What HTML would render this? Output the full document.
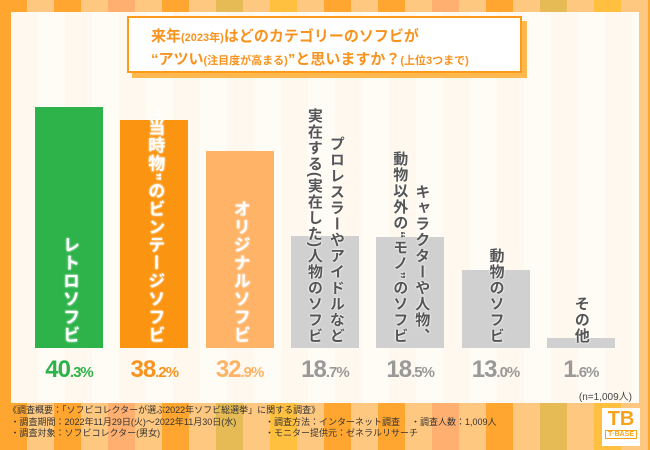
<!DOCTYPE html>
<html><head><meta charset="utf-8">
<style>
*{margin:0;padding:0;box-sizing:border-box}
body{width:650px;height:450px;overflow:hidden;font-family:"Liberation Sans","Noto Sans CJK JP",sans-serif;position:relative;
background:repeating-linear-gradient(90deg,#ffa630 0 27px,#ffc880 27px 54px,#ffa630 54px 81px,#ffc880 81px 108px,#ffb070 108px 135px,#ffc880 135px 162px,#ffa630 162px 189px,#ffc880 189px 216px,#e6bb55 216px 243px,#ffc880 243px 270px,#ffc040 270px 297px,#ffc880 297px 324px)}
#panel{position:absolute;left:11px;top:12px;width:628px;height:391px;background:repeating-linear-gradient(90deg,#fff8ee 0 27px,#fffbf5 27px 54px)}
#title-shadow{position:absolute;left:132px;top:21px;width:395px;height:57px;background:#ffb84d}
#title{position:absolute;left:127px;top:16px;width:395px;height:57px;background:#fff;border:2px solid #ff9a1a;color:#f7931e;font-size:15px;font-weight:bold;padding:8px 0 0 22px;line-height:21px}
#title small{font-size:11px}
.lbl{position:absolute;writing-mode:vertical-rl;text-align:end;font-weight:bold;font-size:17px;line-height:22px;letter-spacing:1px}
.w{color:#fff;text-shadow:0 0 2px #fff}
.g{color:#555;text-shadow:0 0 2px #fff,0 0 2px #fff;font-size:15px}
.val{position:absolute;top:356px;font-size:24px;font-weight:bold;text-align:center;width:90px;letter-spacing:-1px}
.val span{font-size:15px}
#foot{position:absolute;left:8px;top:405px;width:580px;font-size:9px;color:#333;line-height:11.5px;white-space:nowrap}
#foot span{white-space:nowrap}
</style></head><body>
<div id="panel"></div>
<div id="title-shadow"></div>
<div id="title">来年<small>(2023年)</small>はどのカテゴリーのソフビが<br>“アツい<small>(注目度が高まる)</small>”と思いますか？<small>(上位3つまで)</small></div>
<div id="chart"></div>
<div style="position:absolute;right:18px;top:388px;font-size:10px;color:#444">(n=1,009人)</div>
<div id="foot">《調査概要：「ソフビコレクターが選ぶ2022年ソフビ総選挙」に関する調査》<br>
&nbsp;・調査期間：2022年11月29日(火)～2022年11月30日(水)<span style="position:absolute;left:257px">・調査方法：インターネット調査</span><span style="position:absolute;left:403px">・調査人数：1,009人</span><br>
&nbsp;・調査対象：ソフビコレクター(男女)<span style="position:absolute;left:257px">・モニター提供元：ゼネラルリサーチ</span></div>
<div style="position:absolute;left:602px;top:408px;width:38px;height:38px;background:#fff;text-align:center;color:#f7a21b;font-weight:bold"><div style="font-size:20px;line-height:22px">TB</div><div style="font-size:7px;border:1px solid #f7a21b;margin:0 3px">T·BASE</div></div>
<script>
const categories=["レトロソフビ","“当時物”のビンテージソフビ","オリジナルソフビ","実在する(実在した)人物のソフビ|プロレスラーやアイドルなど","動物以外の“モノ”のソフビ|キャラクターや人物、","動物のソフビ","その他"];
const values=[40.3,38.2,32.9,18.7,18.5,13.0,1.6];
const barColors=["#2db34a","#fb9410","#ffb366","#d0d0d0","#d0d0d0","#d0d0d0","#d0d0d0"];
const valColors=["#2db34a","#f7931e","#ffb366","#999","#999","#999","#999"];
const chart=document.getElementById('chart');
const base=348,scale=5.98,x0=35,step=85.3,bw=68;
const y=v=>base-v*scale;
values.forEach((v,i)=>{
 const x=x0+i*step;
 const b=document.createElement('div');
 
 
 b.style.cssText=`position:absolute;left:${x}px;top:${y(v)}px;width:${bw}px;height:${v*scale}px;background:${barColors[i]}`;
 chart.appendChild(b);
 const l=document.createElement('div');
 
 
 l.className='lbl '+(i<3?'w':'g');
 const parts=categories[i].split('|');
 l.innerHTML=parts.reverse().join('<br>');
 const lw=parts.length*22;
 l.style.left=(x+bw/2-lw/2)+'px';
 l.style.top='100px';l.style.height='244px';
 chart.appendChild(l);
 const t=document.createElement('div');
 
 
 t.className='val';
 const s=v.toFixed(1).split('.');
 t.innerHTML=s[0]+'<span>.'+s[1]+'%</span>';
 t.style.left=(x+bw/2-45)+'px';t.style.color=valColors[i];
 chart.appendChild(t);
});
</script>
</body></html>
